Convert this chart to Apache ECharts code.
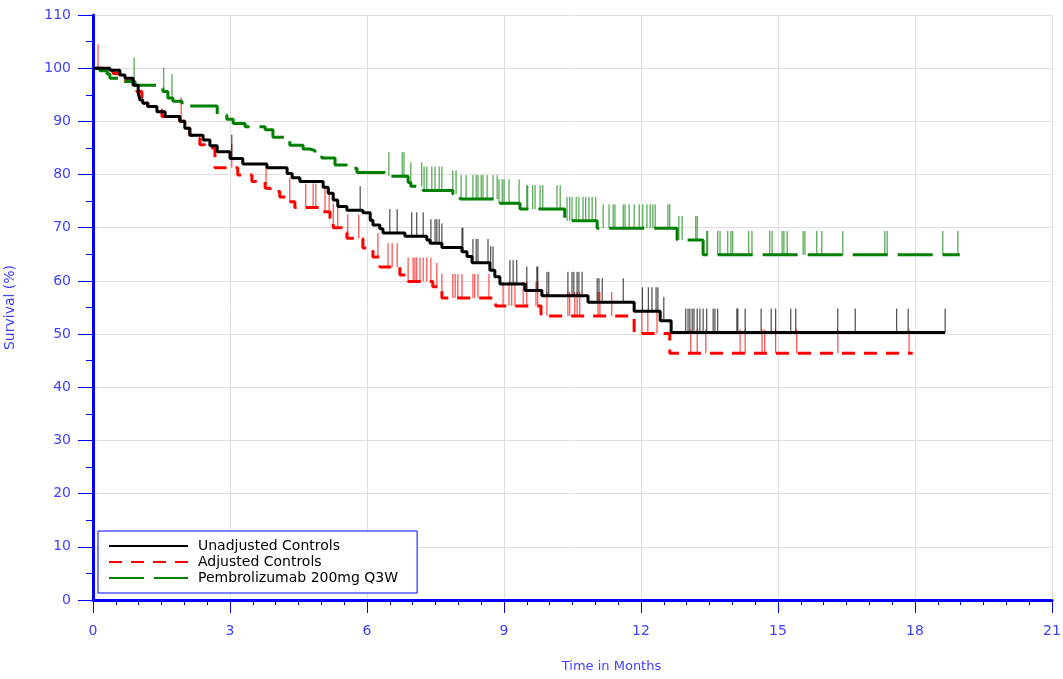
<!DOCTYPE html>
<html>
<head>
<meta charset="utf-8">
<title>Survival</title>
<script src="https://cdn.jsdelivr.net/npm/echarts@6/dist/echarts.min.js"></script>
<style>
  html, body { margin: 0; padding: 0; background: #fff; }
  #chart { width: 1063px; height: 679px; }
</style>
</head>
<body>
<div id="chart"></div>
<script>
// step points: time (months) where the curve takes the value that follows
const unadjTime = [0, 0.37, 0.59, 0.70, 0.88, 0.99, 1.03, 1.09, 1.20, 1.40, 1.58, 1.90, 2.01, 2.12, 2.41, 2.56, 2.72, 3.00, 3.28, 3.81, 4.25, 4.36, 4.53, 5.04, 5.15, 5.26, 5.36, 5.56, 5.91, 6.07, 6.13, 6.28, 6.35, 6.83, 7.31, 7.38, 7.64, 8.08, 8.19, 8.30, 8.69, 8.80, 8.91, 9.46, 9.83, 10.84, 11.85, 12.42, 12.66, 18.66];
const unadjSurv = [100, 99.6, 98.7, 98.1, 96.8, 95.3, 94, 93.4, 92.8, 91.8, 90.9, 90, 88.7, 87.4, 86.5, 85.4, 84.3, 83.0, 82, 81.3, 80.2, 79.4, 78.7, 77.6, 76.5, 75.2, 74, 73.3, 72.8, 71.4, 70.5, 69.8, 69, 68.4, 67.7, 67.1, 66.3, 65.5, 64.6, 63.4, 62, 60.8, 59.4, 58.2, 57.2, 56, 54.3, 52.5, 50.3, 50.3];
const unadjCensor = [3.04, 5.85, 6.50, 6.66, 6.98, 7.09, 7.23, 7.40, 7.49, 7.53, 7.58, 7.64, 8.08, 8.10, 8.32, 8.39, 8.43, 8.65, 8.71, 8.76, 9.13, 9.20, 9.28, 9.50, 9.72, 9.74, 9.94, 9.98, 10.40, 10.49, 10.53, 10.60, 10.64, 10.71, 11.04, 11.08, 11.15, 11.61, 12.03, 12.16, 12.24, 12.33, 12.37, 12.50, 12.98, 13.03, 13.07, 13.12, 13.16, 13.23, 13.29, 13.36, 13.44, 13.58, 13.62, 13.68, 14.10, 14.12, 14.28, 14.63, 14.85, 14.95, 15.28, 15.39, 16.31, 16.69, 17.60, 17.85, 18.66];

const adjTime = [0, 0.22, 0.44, 0.59, 0.66, 0.88, 0.96, 1.07, 1.20, 1.40, 1.51, 1.90, 2.01, 2.12, 2.28, 2.34, 2.45, 2.67, 3.17, 3.48, 3.77, 3.88, 4.09, 4.25, 4.42, 5.04, 5.19, 5.26, 5.45, 5.56, 5.91, 6.13, 6.28, 6.72, 6.90, 7.44, 7.64, 8.82, 9.81, 11.85, 12.63, 17.95];
const adjSurv = [100, 99.6, 99.0, 98.4, 97.6, 96.5, 95.6, 93.5, 92.8, 92.1, 90.9, 90, 88.7, 87.4, 86.8, 85.6, 85, 81.3, 79.9, 78.7, 77.4, 76.8, 75.8, 74.9, 73.8, 73.0, 71.8, 70, 69, 68, 66.2, 64.5, 62.6, 61.1, 59.9, 58.9, 56.8, 55.3, 53.4, 50.1, 46.4, 46.4];
const adjCensor = [0.11, 1.93, 3.04, 3.79, 4.31, 4.66, 4.82, 4.88, 5.08, 5.17, 5.26, 5.36, 5.58, 5.82, 6.24, 6.46, 6.55, 6.66, 6.90, 7.01, 7.05, 7.09, 7.16, 7.23, 7.31, 7.40, 7.53, 7.64, 7.88, 7.93, 7.99, 8.08, 8.32, 8.36, 8.43, 8.67, 8.98, 9.11, 9.17, 9.24, 9.42, 9.50, 9.70, 9.74, 9.94, 10.40, 10.44, 10.55, 10.60, 10.66, 11.06, 11.10, 11.36, 12.02, 12.15, 12.35, 13.09, 13.23, 13.42, 14.17, 14.28, 14.65, 14.71, 14.95, 15.41, 16.31, 17.87];

const pemTime = [0, 0.15, 0.31, 0.37, 0.70, 0.92, 1.42, 1.53, 1.64, 1.75, 1.95, 2.72, 2.93, 3.07, 3.33, 3.77, 3.94, 4.31, 4.60, 4.75, 4.86, 5.01, 5.30, 5.56, 5.78, 6.39, 6.90, 6.96, 7.23, 7.88, 8.04, 8.87, 9.35, 10.33, 11.04, 12.79, 13.36, 18.98];
const pemSurv = [100, 99.5, 98.9, 98.1, 97.5, 96.8, 96.2, 95.6, 94.4, 93.8, 92.9, 91.2, 90.4, 89.6, 89, 88.4, 87, 85.5, 84.8, 84.5, 83.7, 83.1, 81.8, 81.2, 80.4, 79.7, 78.5, 77.8, 77, 76.3, 75.4, 74.6, 73.5, 71.3, 69.9, 67.7, 64.9, 64.9];
const pemCensor = [0.90, 1.55, 1.73, 6.48, 6.77, 6.81, 6.96, 7.20, 7.25, 7.31, 7.42, 7.49, 7.58, 7.64, 7.88, 7.95, 8.06, 8.17, 8.32, 8.39, 8.43, 8.50, 8.54, 8.63, 8.76, 8.85, 8.89, 8.96, 9.00, 9.11, 9.33, 9.50, 9.52, 9.63, 9.68, 9.79, 9.85, 10.16, 10.23, 10.38, 10.44, 10.49, 10.58, 10.64, 10.73, 10.79, 10.86, 10.93, 11.01, 11.17, 11.30, 11.39, 11.43, 11.61, 11.65, 11.74, 11.85, 11.96, 12.04, 12.13, 12.20, 12.26, 12.31, 12.59, 12.63, 12.83, 12.90, 13.20, 13.23, 13.44, 13.46, 13.68, 13.73, 13.90, 13.97, 14.01, 14.36, 14.43, 14.82, 14.87, 15.09, 15.13, 15.20, 15.55, 15.59, 15.85, 15.96, 16.42, 17.34, 17.39, 18.61, 18.94];

const tickLen = 4.5;
const blue = '#0000ff';
const labelBlue = '#4040ff';
const font = 'DejaVu Sans';

function pairs(t, s) {
  return t.map((v, i) => [v, s[i]]);
}
// survival value of a step curve at time t
function survAt(t, times, survs) {
  let v = survs[0];
  for (let i = 0; i < times.length; i++) {
    if (times[i] <= t) v = survs[i];
  }
  return v;
}
function censorSeries(name, times, stepT, stepS, color) {
  return {
    name: name,
    type: 'custom',
    silent: true,
    data: times.map(t => [t, survAt(t, stepT, stepS)]),
    renderItem: function (params, api) {
      const p0 = api.coord([api.value(0), api.value(1)]);
      const p1 = api.coord([api.value(0), api.value(1) + tickLen]);
      return {
        type: 'line',
        shape: { x1: p0[0], y1: p0[1], x2: p1[0], y2: p1[1] },
        style: { stroke: color, lineWidth: 1, opacity: 0.85 }
      };
    }
  };
}

const chart = echarts.init(document.getElementById('chart'));
chart.setOption({
  animation: false,
  textStyle: { fontFamily: font },
  grid: { left: 93, right: 11, top: 15, bottom: 79, outerBoundsMode: 'none', containLabel: false },
  legend: {
    left: 98,
    top: 531,
    orient: 'vertical',
    data: ['Unadjusted Controls', 'Adjusted Controls', 'Pembrolizumab 200mg Q3W'],
    itemWidth: 79,
    itemHeight: 14,
    itemGap: 2,
    padding: [8, 19, 8, 10],
    borderColor: blue,
    borderWidth: 1,
    backgroundColor: '#fff',
    itemStyle: { opacity: 0 },
    textStyle: { color: '#000', fontSize: 14, fontFamily: font, padding: [0, 0, 0, 5] }
  },
  xAxis: {
    type: 'value',
    min: 0,
    max: 21,
    interval: 3,
    name: 'Time in Months',
    nameLocation: 'middle',
    nameGap: 60,
    nameTextStyle: { color: labelBlue, fontSize: 13, padding: [0, 0, 0, 78] },
    axisLine: { show: true, onZero: false, lineStyle: { color: blue, width: 3 } },
    axisTick: { show: true, length: 13, lineStyle: { color: blue, width: 1 } },
    minorTick: { show: true, splitNumber: 6, length: 5, lineStyle: { color: blue, width: 1 } },
    axisLabel: { color: labelBlue, fontSize: 14, margin: 24 },
    splitLine: { show: true, lineStyle: { color: '#e0e0e0', width: 1 } }
  },
  yAxis: {
    type: 'value',
    min: 0,
    max: 110,
    interval: 10,
    name: 'Survival (%)',
    nameLocation: 'middle',
    nameGap: 76,
    nameTextStyle: { color: labelBlue, fontSize: 14 },
    axisLine: { show: true, lineStyle: { color: blue, width: 3 } },
    axisTick: { show: true, length: 15, lineStyle: { color: blue, width: 1 } },
    minorTick: { show: true, splitNumber: 2, length: 7, lineStyle: { color: blue, width: 1 } },
    axisLabel: { color: labelBlue, fontSize: 14, margin: 22 },
    splitLine: { show: true, lineStyle: { color: '#e0e0e0', width: 1 } }
  },
  series: [
    {
      name: 'Adjusted Controls',
      type: 'line',
      step: 'end',
      symbol: 'none',
      data: pairs(adjTime, adjSurv),
      lineStyle: { color: '#ff0000', width: 3, type: [13, 9] },
      itemStyle: { color: '#ff0000' },
      z: 3
    },
    censorSeries('adjCensor', adjCensor, adjTime, adjSurv, '#ff0000'),
    {
      name: 'Pembrolizumab 200mg Q3W',
      type: 'line',
      step: 'end',
      symbol: 'none',
      data: pairs(pemTime, pemSurv),
      lineStyle: { color: '#008000', width: 3, type: [35, 10] },
      itemStyle: { color: '#008000' },
      z: 3
    },
    censorSeries('pemCensor', pemCensor, pemTime, pemSurv, '#008000'),
    {
      name: 'Unadjusted Controls',
      type: 'line',
      step: 'end',
      symbol: 'none',
      data: pairs(unadjTime, unadjSurv),
      lineStyle: { color: '#000000', width: 3 },
      itemStyle: { color: '#000000' },
      z: 4
    },
    censorSeries('unadjCensor', unadjCensor, unadjTime, unadjSurv, '#000000')
  ]
});
</script>
</body>
</html>
